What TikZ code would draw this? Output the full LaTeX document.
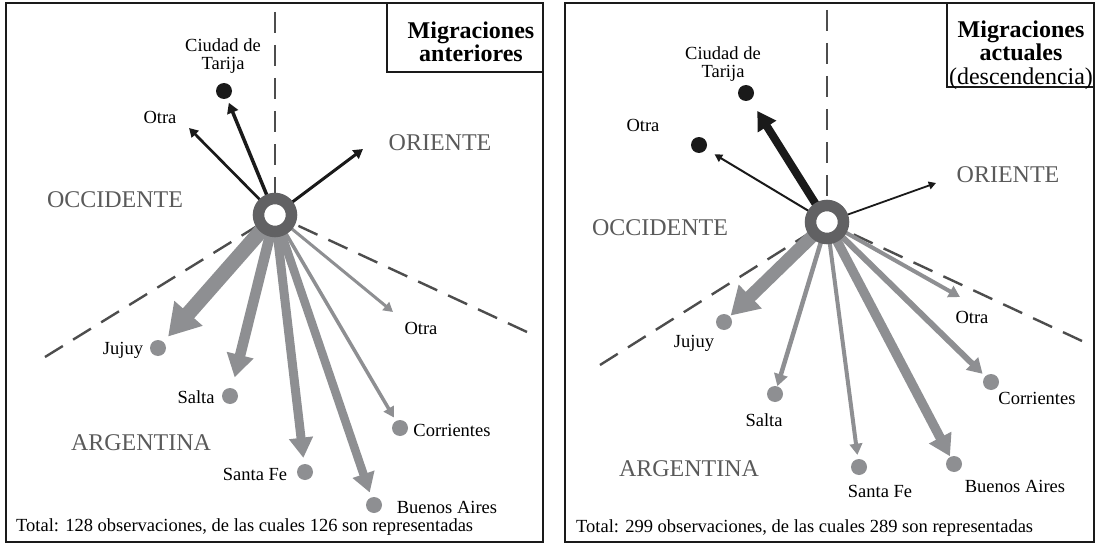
\documentclass[tikz,border=0pt]{standalone}
\usepackage{fontspec}
\setmainfont{Liberation Serif}
\usetikzlibrary{arrows.meta}
\definecolor{flowgray}{HTML}{8E8F92}
\definecolor{ringgray}{HTML}{616163}
\definecolor{zonegray}{HTML}{5A5A5A}
\definecolor{dividergray}{HTML}{4D4D4D}
\definecolor{darkline}{HTML}{1A1A1A}

\begin{document}
\begin{tikzpicture}[x=1pt, y=-1pt,
    frame/.style={draw=darkline, line width=1.5pt},
    divider/.style={draw=dividergray, line width=2.4pt, dash pattern=on 21pt off 12pt},
    flow/.style={draw=flowgray, line width=#1, -{Triangle[length=4pt 1.8, width=4pt 2.1]}},
    homeflow/.style={draw=darkline, line width=#1, -{Triangle[length=4pt 1.8, width=4pt 2.1]}},
    hub/.style={circle, draw=ringgray, fill=white, line width=11.5pt, minimum size=33pt, inner sep=0pt},
    place/.style={circle, fill=flowgray, minimum size=16pt, inner sep=0pt},
    home/.style={circle, fill=darkline, minimum size=16pt, inner sep=0pt},
    txt/.style={font=\fontsize{18.5}{17.5}\selectfont, inner sep=0pt},
    zone/.style={font=\fontsize{24}{26}\selectfont, text=zonegray, inner sep=0pt},
    title/.style={font=\fontsize{24}{23.5}\selectfont, align=center, inner sep=0pt}]
    \useasboundingbox (0,0) rectangle (1096,543);

    % panel frames
    \draw[frame] (6,3) rectangle (543,542);
    \draw[frame] (387,3) rectangle (543,72);
    \draw[frame] (565,3) rectangle (1094,542);
    \draw[frame] (947,3) rectangle (1094,87);

    % ---- left panel: migraciones anteriores
    \coordinate (cL) at (275,215);
    \coordinate (topL) at (275,12);
    \coordinate (swL) at (45,357);
    \coordinate (seL) at (527,332);
    \coordinate (otraWL) at (189,128);
    \coordinate (orienteL) at (363,149);
    \coordinate (otraEL) at (393,312);
    \draw[divider] (topL) -- (cL);
    \draw[divider] (swL) -- (cL);
    \draw[divider] (seL) -- (cL);

    \node[home] (tarijaL) at (224,91) {};
    \node[place] (jujuyL) at (158,348) {};
    \node[place] (saltaL) at (230,396) {};
    \node[place] (santafeL) at (305,472) {};
    \node[place] (bsasL) at (374,505) {};
    \node[place] (corrL) at (400,428) {};

    \draw[homeflow=3.5pt, shorten >=4.5pt] (cL) -- (tarijaL);
    \draw[homeflow=2.7pt] (cL) -- (otraWL);
    \draw[homeflow=3pt] (cL) -- (orienteL);
    \draw[flow=15pt, shorten >=7pt] (cL) -- (jujuyL);
    \draw[flow=10.5pt, shorten >=11pt] (cL) -- (saltaL);
    \draw[flow=9pt, shorten >=6pt] (cL) -- (santafeL);
    \draw[flow=8.5pt, shorten >=5pt] (cL) -- (bsasL);
    \draw[flow=3.5pt, shorten >=4pt] (cL) -- (corrL);
    \draw[flow=3pt] (cL) -- (otraEL);
    \node[hub] (ringL) at (cL) {};

    \node[txt, align=center] (tarijaTxtL) at (223,56) {Ciudad de\\Tarija};
    \node[txt] (otraWTxtL) at (160,117) {Otra};
    \node[txt] (jujuyTxtL) at (123,350) {Jujuy};
    \node[txt] (saltaTxtL) at (196,397) {Salta};
    \node[txt] (santafeTxtL) at (255,474) {Santa Fe};
    \node[txt] (bsasTxtL) at (447,507) {Buenos Aires};
    \node[txt] (corrTxtL) at (452,430) {Corrientes};
    \node[txt] (otraETxtL) at (421,328) {Otra};
    \node[zone] (orienteTxtL) at (440,143) {ORIENTE};
    \node[zone] (occidenteTxtL) at (115,200) {OCCIDENTE};
    \node[zone] (argentinaTxtL) at (141,443) {ARGENTINA};
    \node[title] (titleL) at (471,42) {\textbf{Migraciones}\\\textbf{anteriores}};
    \node[txt, anchor=west] (totalL) at (16,527) {Total: 128 observaciones, de las cuales 126 son representadas};

    % ---- right panel: migraciones actuales
    \coordinate (cR) at (827,222);
    \coordinate (topR) at (827,10);
    \coordinate (swR) at (600,365);
    \coordinate (seR) at (1082,341);
    \coordinate (orienteR) at (936,183);
    \coordinate (otraER) at (960,297);
    \draw[divider] (topR) -- (cR);
    \draw[divider] (swR) -- (cR);
    \draw[divider] (seR) -- (cR);

    \node[home] (tarijaR) at (746,93) {};
    \node[home] (otraWR) at (699,145) {};
    \node[place] (jujuyR) at (724,322) {};
    \node[place] (saltaR) at (775,394) {};
    \node[place] (santafeR) at (859,467) {};
    \node[place] (bsasR) at (954,464) {};
    \node[place] (corrR) at (991,382) {};

    \draw[homeflow=8pt, shorten >=13pt] (cR) -- (tarijaR);
    \draw[homeflow=2pt, shorten >=10pt] (cR) -- (otraWR);
    \draw[homeflow=1.8pt] (cR) -- (orienteR);
    \draw[flow=13pt, shorten >=1pt] (cR) -- (jujuyR);
    \draw[flow=4.5pt] (cR) -- (saltaR);
    \draw[flow=4pt, shorten >=4pt] (cR) -- (santafeR);
    \draw[flow=9.5pt, shorten >=0.5pt] (cR) -- (bsasR);
    \draw[flow=6pt, shorten >=3.5pt] (cR) -- (corrR);
    \draw[flow=4pt] (cR) -- (otraER);
    \node[hub] (ringR) at (cR) {};

    \node[txt, align=center] (tarijaTxtR) at (723,64) {Ciudad de\\Tarija};
    \node[txt] (otraWTxtR) at (643,125) {Otra};
    \node[txt] (jujuyTxtR) at (694,343) {Jujuy};
    \node[txt] (saltaTxtR) at (764,420) {Salta};
    \node[txt] (santafeTxtR) at (880,491) {Santa Fe};
    \node[txt] (bsasTxtR) at (1015,486) {Buenos Aires};
    \node[txt] (corrTxtR) at (1037,398) {Corrientes};
    \node[txt] (otraETxtR) at (972,317) {Otra};
    \node[zone] (orienteTxtR) at (1008,175) {ORIENTE};
    \node[zone] (occidenteTxtR) at (660,228) {OCCIDENTE};
    \node[zone] (argentinaTxtR) at (689,469) {ARGENTINA};
    \node[title] (titleR) at (1021,55) {\textbf{Migraciones}\\\textbf{actuales}\\(descendencia)};
    \node[txt, anchor=west] (totalR) at (576,528) {Total: 299 observaciones, de las cuales 289 son representadas};
\end{tikzpicture}
\end{document}
